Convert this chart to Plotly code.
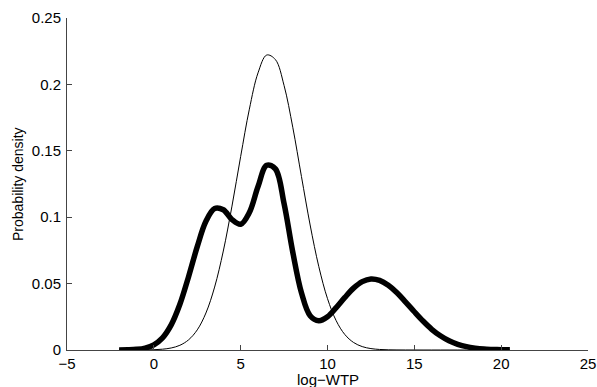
import plotly.graph_objects as go

# log-WTP grid
log_wtp = [-2.0, -1.5, -1.0, -0.5, 0.0, 0.5, 1.0, 1.5, 2.0, 2.5, 3.0, 3.5, 4.0, 4.5,
           5.0, 5.5, 6.0, 6.5, 7.0, 7.5, 8.0, 8.5, 9.0, 9.5, 10.0, 10.5, 11.0, 11.5,
           12.0, 12.5, 13.0, 13.5, 14.0, 14.5, 15.0, 15.5, 16.0, 16.5, 17.0, 17.5,
           18.0, 18.5, 19.0, 19.5, 20.0, 20.5]

# thin curve (single-peaked density)
density_thin = [0.000002, 0.000008, 0.000024, 0.000076, 0.00022, 0.00061, 0.00153, 0.00355,
                0.00764, 0.01516, 0.02787, 0.04739, 0.07452, 0.10835, 0.14575, 0.18133,
                0.20868, 0.22212, 0.21869, 0.19914, 0.16773, 0.13066, 0.09415, 0.06275,
                0.03867, 0.02206, 0.01163, 0.00567, 0.00256, 0.00107, 0.00041, 0.00015,
                0.00005, 0.000015, 0.000004, 0.0, 0.0, 0.0, 0.0, 0.0,
                0.0, 0.0, 0.0, 0.0, 0.0, 0.0]

# thick curve (multi-modal density)
density_thick = [0.00004, 0.00014, 0.00048, 0.00146, 0.00389, 0.00913, 0.0189, 0.0344,
                 0.0552, 0.0778, 0.0969, 0.1066, 0.1056, 0.0982, 0.0947, 0.1035,
                 0.1231, 0.1391, 0.1364, 0.1102, 0.0737, 0.0431, 0.0258, 0.0220,
                 0.0250, 0.0319, 0.0396, 0.0466, 0.0515, 0.0535, 0.0524, 0.0487,
                 0.0431, 0.0361, 0.0288, 0.0218, 0.0156, 0.0107, 0.0069, 0.0043,
                 0.0025, 0.0014, 0.0007, 0.0004, 0.0002, 0.0001]

x_ticks = [-5, 0, 5, 10, 15, 20, 25]
x_tick_labels = ["\u22125", "0", "5", "10", "15", "20", "25"]
y_ticks = [0, 0.05, 0.1, 0.15, 0.2, 0.25]
y_tick_labels = ["0", "0.05", "0.1", "0.15", "0.2", "0.25"]

FONT = "Liberation Sans, Arial, Helvetica, sans-serif"

fig = go.Figure()
fig.add_trace(go.Scatter(x=log_wtp, y=density_thin, mode="lines",
                         line=dict(color="black", width=1, shape="spline"),
                         showlegend=False, hoverinfo="skip"))
fig.add_trace(go.Scatter(x=log_wtp, y=density_thick, mode="lines",
                         line=dict(color="black", width=5.5, shape="spline"),
                         showlegend=False, hoverinfo="skip"))

fig.update_layout(
    width=597, height=387,
    margin=dict(l=67, r=9, t=18, b=37, autoexpand=False),
    paper_bgcolor="white", plot_bgcolor="white",
    font=dict(family=FONT, size=15, color="black"),
    xaxis=dict(range=[-5, 25], tickvals=x_ticks, ticktext=x_tick_labels,
               ticks="inside", ticklen=5, tickcolor="#444", showline=True,
               linecolor="#444", linewidth=1, showgrid=False, zeroline=False,
               mirror=False, automargin=False, ticklabelstandoff=0,
               tickfont=dict(size=15)),
    yaxis=dict(range=[0, 0.25], tickvals=y_ticks, ticktext=y_tick_labels,
               ticks="inside", ticklen=5, tickcolor="#444", showline=True,
               linecolor="#444", linewidth=1, showgrid=False, zeroline=False,
               mirror=False, automargin=False, ticklabelstandoff=2,
               tickfont=dict(size=15)),
    annotations=[
        dict(text="log\u2212WTP", xref="paper", yref="paper", x=0.5, y=0.0,
             yshift=-29, xanchor="center", yanchor="middle", showarrow=False,
             font=dict(size=15)),
        dict(text="Probability density", xref="paper", yref="paper", x=0, y=0.5,
             xshift=-49, xanchor="center", yanchor="middle", textangle=-90,
             showarrow=False, font=dict(size=14)),
    ],
)

fig.write_html("out.html", config={"displayModeBar": False},
               post_script="document.body.style.margin='0';document.body.style.padding='0';")
